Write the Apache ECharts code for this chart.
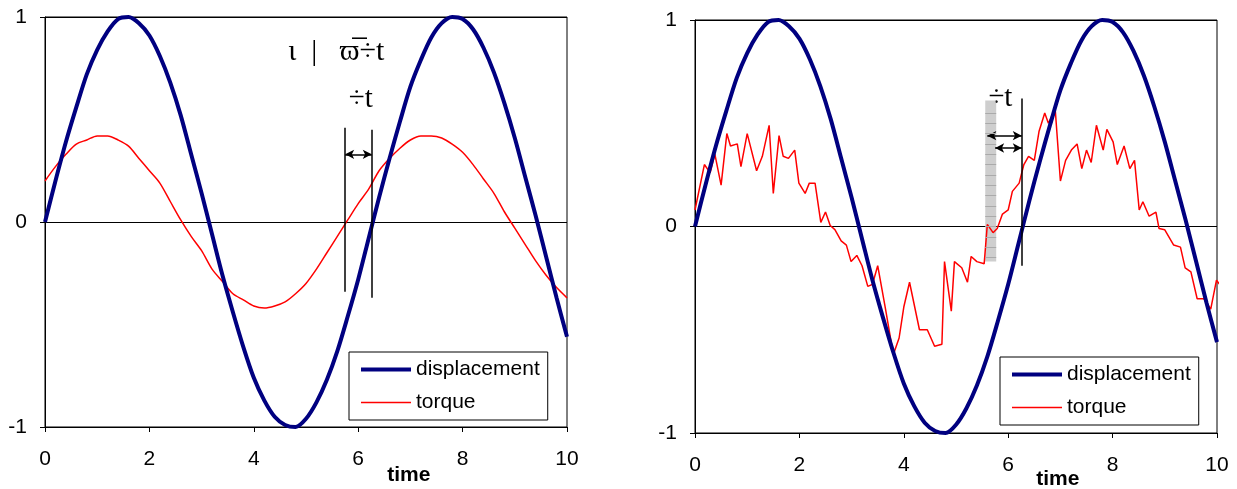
<!DOCTYPE html>
<html>
<head>
<meta charset="utf-8">
<script src="https://cdn.jsdelivr.net/npm/echarts@6/dist/echarts.min.js"></script>
<style>
html,body{margin:0;padding:0;background:#fff;}
#chart{width:1237px;height:489px;}
</style>
</head>
<body>
<div id="chart"></div>
<script>
// time samples for the smooth curves
var times = [0,0.2,0.4,0.6,0.8,1,1.2,1.4,1.6,1.8,2,2.2,2.4,2.6,2.8,3,3.2,3.4,3.6,3.8,4,
	4.2,4.4,4.6,4.8,5,5.2,5.4,5.6,5.8,6,6.2,6.4,6.6,6.8,7,7.2,7.4,7.6,7.8,8,
	8.2,8.4,8.6,8.8,9,9.2,9.4,9.6,9.8,10];
var displacement = [0,0.2,0.39,0.56,0.72,0.84,0.93,0.99,1,0.97,0.91,0.81,0.68,0.52,0.33,0.14,
	-0.06,-0.26,-0.44,-0.61,-0.76,-0.87,-0.95,-0.99,-1,-0.96,-0.88,-0.77,-0.63,-0.46,-0.28,
	-0.08,0.12,0.31,0.49,0.66,0.79,0.9,0.97,1,0.99,0.94,0.85,0.73,0.58,0.41,0.22,0.03,
	-0.17,-0.37,-0.56];
var torqueLeft = [0.2,0.27,0.33,0.38,0.4,0.42,0.42,0.4,0.37,0.31,0.25,0.19,0.1,0.01,-0.07,-0.14,
	-0.23,-0.29,-0.35,-0.38,-0.41,-0.42,-0.41,-0.39,-0.35,-0.3,-0.23,-0.15,-0.07,0.01,0.09,
	0.16,0.25,0.31,0.36,0.4,0.42,0.42,0.41,0.38,0.34,0.28,0.21,0.14,0.05,-0.03,-0.11,-0.19,
	-0.26,-0.32,-0.37];
// noisy torque of the right panel, [time, value]
var torqueRight = [[0,0.08],[0.18,0.3],[0.29,0.26],[0.38,0.35],[0.5,0.2],[0.61,0.45],[0.68,0.39],
	[0.81,0.4],[0.88,0.29],[1,0.45],[1.18,0.27],[1.29,0.34],[1.42,0.49],[1.5,0.16],[1.61,0.44],
	[1.69,0.34],[1.79,0.33],[1.91,0.37],[1.99,0.21],[2.11,0.16],[2.19,0.21],[2.3,0.21],
	[2.41,0.02],[2.5,0.07],[2.59,0.005],[2.68,-0.015],[2.8,-0.07],[2.9,-0.09],[2.99,-0.17],
	[3.1,-0.14],[3.2,-0.19],[3.31,-0.29],[3.4,-0.28],[3.5,-0.19],[3.65,-0.4],[3.8,-0.62],
	[3.91,-0.54],[4,-0.39],[4.11,-0.27],[4.3,-0.5],[4.45,-0.5],[4.59,-0.58],[4.73,-0.57],
	[4.78,-0.17],[4.91,-0.41],[4.97,-0.17],[5.11,-0.2],[5.22,-0.27],[5.29,-0.145],[5.4,-0.17],
	[5.54,-0.18],[5.6,0.01],[5.71,-0.03],[5.79,-0.01],[5.89,0.06],[6,0.08],[6.08,0.17],
	[6.21,0.21],[6.3,0.3],[6.39,0.34],[6.5,0.32],[6.59,0.46],[6.7,0.55],[6.77,0.5],[6.9,0.57],
	[7,0.22],[7.1,0.32],[7.21,0.37],[7.32,0.4],[7.41,0.28],[7.5,0.37],[7.59,0.31],[7.69,0.49],
	[7.82,0.37],[7.89,0.47],[8.01,0.41],[8.09,0.3],[8.22,0.39],[8.33,0.28],[8.42,0.32],
	[8.51,0.08],[8.58,0.12],[8.7,0.05],[8.83,0.07],[8.89,-0.01],[9,-0.016],[9.17,-0.09],
	[9.3,-0.1],[9.39,-0.2],[9.5,-0.22],[9.62,-0.35],[9.75,-0.35],[9.88,-0.4],[9.99,-0.26],
	[10.05,-0.28]];

// annotation positions (data units)
var leftCursor = [[5.75,0.46,-0.34],[6.26,0.45,-0.37]];
var leftArrowY = 0.33;
var rightBand = [5.56,5.77,0.61,-0.17];
var bandTicks = [0.55,0.5,0.45,0.4,0.35,0.3,0.25,0.2,0.15,0.1,0.05,0,-0.05,-0.1,-0.15];
var rightCursor = [6.26,0.62,-0.19];
var rightArrows = [[5.6,0.44],[5.75,0.38]];

function pairs(xs, ys){
	var out = [];
	for(var i=0;i<xs.length;i++){ out.push([xs[i], ys[i]]); }
	return out;
}

var font = 'Liberation Sans, Arial, sans-serif';
var navy = '#000080';
var red = '#ff0000';

function xAxisOf(i){
	return {
		gridIndex:i, type:'value', min:0, max:10, interval:2,
		axisLine:{show:true, onZero:false, lineStyle:{color:'#000', width:1}},
		axisTick:{show:true, length:5, lineStyle:{color:'#000'}},
		axisLabel:{color:'#000', fontSize:21, fontFamily:font, margin:22},
		splitLine:{show:false}
	};
}
function yAxisOf(i){
	return {
		gridIndex:i, type:'value', min:-1, max:1, interval:1,
		axisLine:{show:true, lineStyle:{color:'#000', width:1}},
		axisTick:{show:true, length:5, lineStyle:{color:'#000'}},
		axisLabel:{color:'#000', fontSize:21, fontFamily:font, margin:18},
		splitLine:{show:true, lineStyle:{color:'#000', width:1}}
	};
}
function legendOf(x, y){
	return {
		left:x, top:y, orient:'vertical',
		data:[
			{name:'displacement', lineStyle:{width:4, color:navy}},
			{name:'torque', lineStyle:{width:1.5, color:red}}
		],
		backgroundColor:'#fff', borderColor:'#000', borderWidth:1, padding:[7,8,7,10],
		itemWidth:50, itemHeight:16, itemGap:12, selectedMode:false,
		itemStyle:{opacity:0},
		textStyle:{fontSize:21, fontFamily:font, color:'#000'}
	};
}
function arrowLine(x1, x2, y){
	return [{coord:[x1,y], symbol:'arrow'},{coord:[x2,y], symbol:'arrow'}];
}
function vLine(x, y1, y2){
	return [{coord:[x,y1], symbol:'none'},{coord:[x,y2], symbol:'none'}];
}

var bandLines = [];
for(var k=0;k<bandTicks.length;k++){
	bandLines.push([
		{coord:[rightBand[0], bandTicks[k]], symbol:'none', lineStyle:{color:'#aaa', width:1}},
		{coord:[rightBand[1], bandTicks[k]], symbol:'none'}
	]);
}

var option = {
	animation:false,
	backgroundColor:'#fff',
	grid:[
		{left:45, top:17, width:522, height:410, show:true, borderColor:'#000', borderWidth:1},
		{left:695, top:20, width:522, height:413, show:true, borderColor:'#000', borderWidth:1}
	],
	xAxis:[xAxisOf(0), xAxisOf(1)],
	yAxis:[yAxisOf(0), yAxisOf(1)],
	legend:[legendOf(349, 352), legendOf(1000, 357)],
	series:[
		{name:'displacement', type:'line', xAxisIndex:0, yAxisIndex:0, data:pairs(times, displacement),
		 symbol:'none', smooth:0.3, lineStyle:{color:navy, width:4}, itemStyle:{color:navy}, z:3},
		{name:'torque', type:'line', xAxisIndex:0, yAxisIndex:0, data:pairs(times, torqueLeft),
		 symbol:'none', smooth:0.3, lineStyle:{color:red, width:1.5}, itemStyle:{color:red}, z:2,
		 markLine:{silent:true, symbolSize:[7,9], label:{show:false},
			lineStyle:{color:'#000', width:1.5, type:'solid'},
			data:[
				vLine(leftCursor[0][0], leftCursor[0][1], leftCursor[0][2]),
				vLine(leftCursor[1][0], leftCursor[1][1], leftCursor[1][2]),
				arrowLine(leftCursor[0][0], leftCursor[1][0], leftArrowY)
			]}},
		{name:'displacement', type:'line', xAxisIndex:1, yAxisIndex:1, data:pairs(times, displacement),
		 symbol:'none', smooth:0.3, lineStyle:{color:navy, width:4}, itemStyle:{color:navy}, z:3},
		{name:'torque', type:'line', xAxisIndex:1, yAxisIndex:1, data:torqueRight,
		 symbol:'none', lineStyle:{color:red, width:1.5}, itemStyle:{color:red}, z:2,
		 markArea:{silent:true, itemStyle:{color:'rgba(180,180,180,0.65)'},
			data:[[{coord:[rightBand[0], rightBand[2]]},{coord:[rightBand[1], rightBand[3]]}]]},
		 markLine:{silent:true, symbolSize:[7,9], label:{show:false},
			lineStyle:{color:'#000', width:1.5, type:'solid'},
			data:[
				vLine(rightCursor[0], rightCursor[1], rightCursor[2]),
				arrowLine(rightArrows[0][0], rightCursor[0], rightArrows[0][1]),
				arrowLine(rightArrows[1][0], rightCursor[0], rightArrows[1][1])
			].concat(bandLines)}}
	]
};

var chart = echarts.init(document.getElementById('chart'));
chart.setOption(option);

// text annotations placed from data coordinates
function at(g, x, y){ return chart.convertToPixel({gridIndex:g}, [x, y]); }
var serif = 'Liberation Serif, DejaVu Serif, serif';
var p1 = at(0, 5.58, 0.83), p2 = at(0, 6.05, 0.6), p3 = at(1, 5.85, 0.62);
var t1 = at(0, 6.97, -1), t2 = at(1, 6.95, -1);
chart.setOption({graphic:[
	{type:'text', x:p1[0], y:p1[1], style:{text:'\u03b9  |   \u03d6\u0305\u00f7t', font:'30px ' + serif, fill:'#000', align:'center', verticalAlign:'middle'}},
	{type:'text', x:p2[0], y:p2[1], style:{text:'\u00f7t', font:'29px ' + serif, fill:'#000', align:'center', verticalAlign:'middle'}},
	{type:'text', x:p3[0], y:p3[1], style:{text:'\u00f7t', font:'29px ' + serif, fill:'#000', align:'center', verticalAlign:'middle'}},
	{type:'text', x:t1[0], y:t1[1] + 48, style:{text:'time', font:'bold 21px ' + font, fill:'#000', align:'center', verticalAlign:'middle'}},
	{type:'text', x:t2[0], y:t2[1] + 46, style:{text:'time', font:'bold 21px ' + font, fill:'#000', align:'center', verticalAlign:'middle'}}
]});
</script>
</body>
</html>
